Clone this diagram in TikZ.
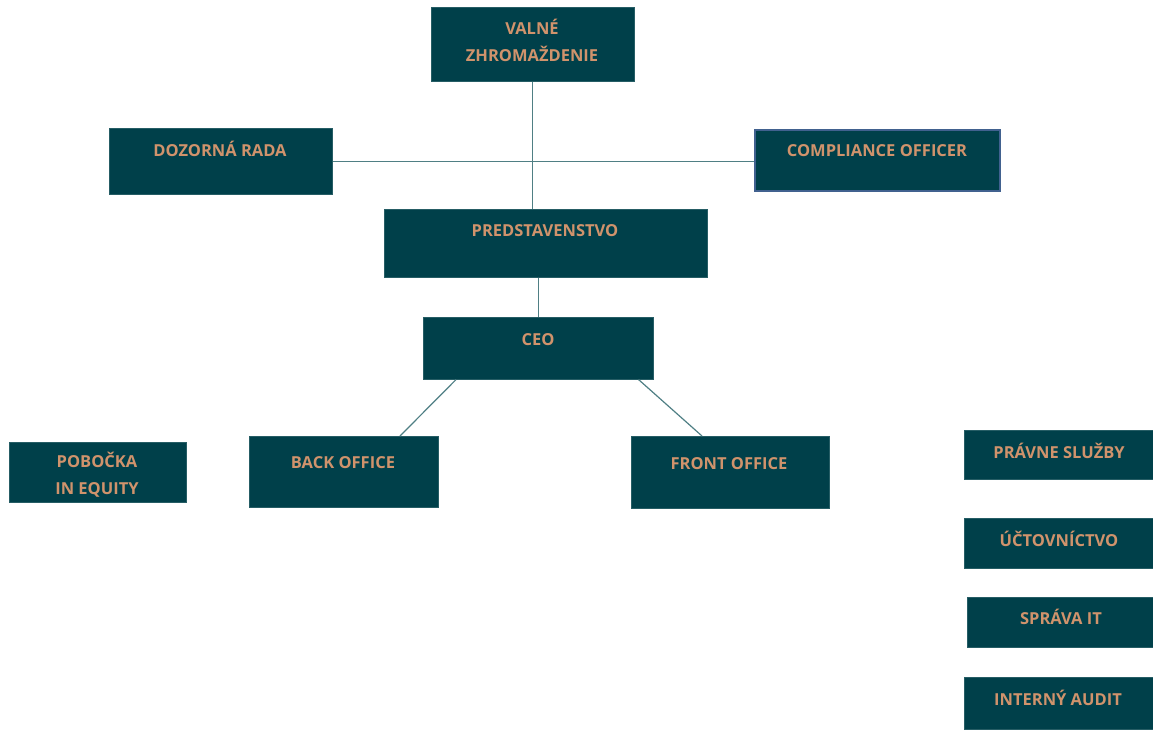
\documentclass[tikz,border=0pt]{standalone}
\usepackage{fontspec}
\setmainfont{Open Sans}
\definecolor{orgfill}{HTML}{00404A}
\definecolor{orgtext}{HTML}{D0936C}
\definecolor{orgline}{HTML}{4F7F84}
\definecolor{orgborder}{HTML}{41618F}
\tikzset{
  unitbox/.style={rectangle, fill=orgfill, draw=orgfill!85!white, line width=0.6pt, inner sep=0pt, anchor=north west},
  unitlbl/.style={text=orgtext, font=\bfseries\fontsize{16.5}{27}\selectfont, inner sep=0pt, anchor=base, align=center},
  link/.style={draw=orgline, line width=1.2pt}
}
\begin{document}
\begin{tikzpicture}[x=1pt, y=-1pt]
                  \useasboundingbox (0,0) rectangle (1153,729);

                  % boxes
                  \node[unitbox, minimum width=203pt, minimum height=74pt] (valne) at (431,7) {};
                  \node[unitbox, minimum width=223pt, minimum height=66pt] (dozor) at (109,128) {};
                  \node[unitbox, draw=orgborder, line width=2pt, minimum width=245pt, minimum height=61pt] (compl) at (754,129) {};
                  \node[unitbox, minimum width=323pt, minimum height=68pt] (pred) at (384,209) {};
                  \node[unitbox, minimum width=230pt, minimum height=62pt] (ceo) at (423,317) {};
                  \node[unitbox, minimum width=177pt, minimum height=60pt] (pobocka) at (9,442) {};
                  \node[unitbox, minimum width=189pt, minimum height=71pt] (back) at (249,436) {};
                  \node[unitbox, minimum width=198pt, minimum height=72pt] (front) at (631,436) {};
                  \node[unitbox, minimum width=190pt, minimum height=49pt] (pravne) at (964,430) {};
                  \node[unitbox, minimum width=190pt, minimum height=50pt] (uctov) at (964,518) {};
                  \node[unitbox, minimum width=187pt, minimum height=50pt] (sprava) at (967,597) {};
                  \node[unitbox, minimum width=190pt, minimum height=52pt] (audit) at (964,677) {};

                  % labels (two-line ones sit on their last line)
                  \node[unitlbl] (valne-t) at (532,61) {VALNÉ\\ZHROMAŽDENIE};
                  \node[unitlbl] (dozor-t) at (220,156) {DOZORNÁ RADA};
                  \node[unitlbl] (compl-t) at (877,156) {COMPLIANCE OFFICER};
                  \node[unitlbl] (pred-t) at (545,236) {PREDSTAVENSTVO};
                  \node[unitlbl] (ceo-t) at (538,345) {CEO};
                  \node[unitlbl] (pobocka-t) at (97,494) {POBOČKA\\IN EQUITY};
                  \node[unitlbl] (back-t) at (343,468) {BACK OFFICE};
                  \node[unitlbl] (front-t) at (729,469) {FRONT OFFICE};
                  \node[unitlbl] (pravne-t) at (1059,458) {PRÁVNE SLUŽBY};
                  \node[unitlbl] (uctov-t) at (1059,546) {ÚČTOVNÍCTVO};
                  \node[unitlbl] (sprava-t) at (1061,624) {SPRÁVA IT};
                  \node[unitlbl] (audit-t) at (1058,705) {INTERNÝ AUDIT};

                  % lines
                  \draw[link] (valne.south) -- (valne.south |- pred.north);
                  \draw[link] (dozor.east) -- (dozor.east -| compl.west);
                  \draw[link] (ceo.north |- pred.south) -- (ceo.north);
                  \draw[link] ([xshift=33pt]ceo.south west) -- ([xshift=151pt]back.north west);
                  \draw[link] ([xshift=-15pt]ceo.south east) -- ([xshift=71pt]front.north west);
                \end{tikzpicture}
\end{document}
